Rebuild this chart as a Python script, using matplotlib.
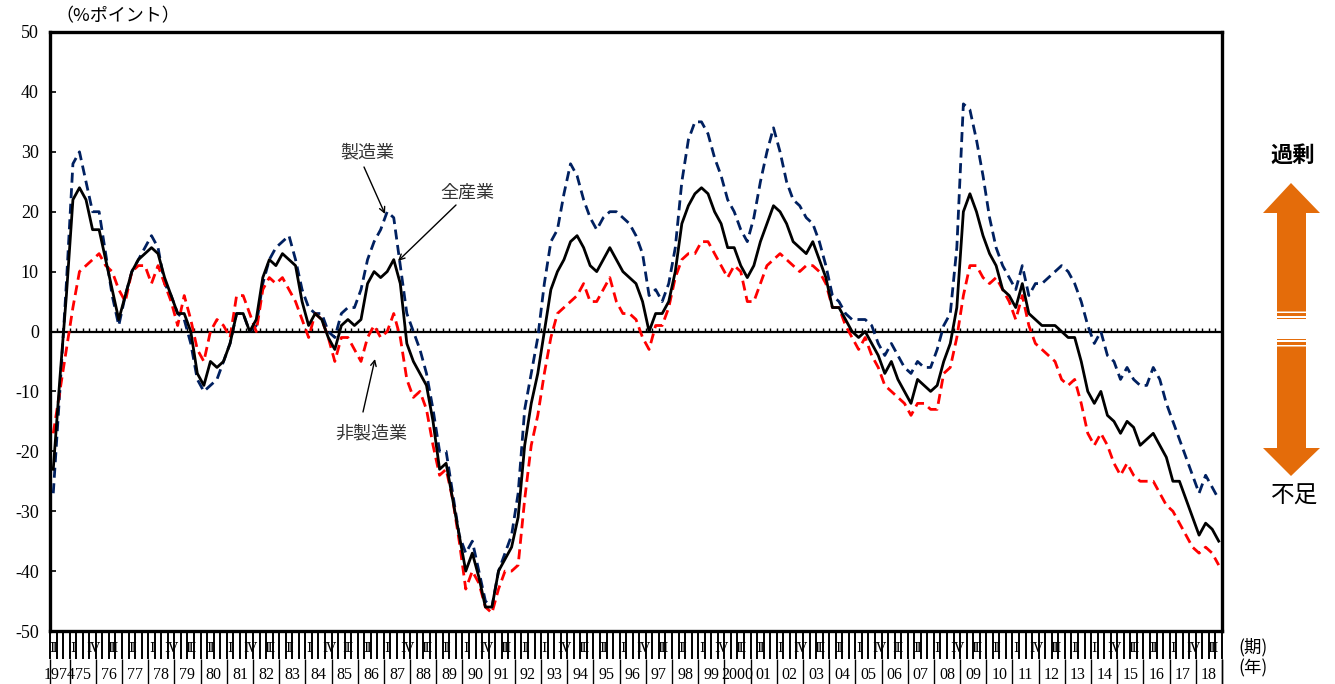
import matplotlib
matplotlib.use("Agg")
import matplotlib.pyplot as plt
from matplotlib.patches import Polygon

plt.rcParams['font.family'] = ['Liberation Serif', 'DejaVu Serif', 'Noto Sans CJK JP']
plt.rcParams['axes.unicode_minus'] = False

# DATA ########################################################################
# quarterly, 1974 Q2 .. 2018 Q4

all_industries = [
    -23, -8, 6, 22, 24, 22, 17, 17, 12, 7,
    2, 6, 10, 12, 13, 14, 13, 9, 6, 3,
    3, 0, -7, -9, -5, -6, -5, -2, 3, 3,
    0, 2, 9, 12, 11, 13, 12, 11, 5, 1,
    3, 2, -1, -3, 1, 2, 1, 2, 8, 10,
    9, 10, 12, 8, -2, -5, -7, -9, -15, -23,
    -22, -28, -34, -40, -37, -41, -46, -46, -40, -38,
    -36, -31, -19, -12, -7, 0, 7, 10, 12, 15,
    16, 14, 11, 10, 12, 14, 12, 10, 9, 8,
    5, 0, 3, 3, 5, 10, 18, 21, 23, 24,
    23, 20, 18, 14, 14, 11, 9, 11, 15, 18,
    21, 20, 18, 15, 14, 13, 15, 12, 9, 4,
    4, 2, 0, -1, 0, -2, -4, -7, -5, -8,
    -10, -12, -8, -9, -10, -9, -5, -2, 4, 20,
    23, 20, 16, 13, 11, 7, 6, 4, 8, 3,
    2, 1, 1, 1, 0, -1, -1, -5, -10, -12,
    -10, -14, -15, -17, -15, -16, -19, -18, -17, -19,
    -21, -25, -25, -28, -31, -34, -32, -33, -35,
]

manufacturing = [
    -27, -10, 8, 28, 30, 25, 20, 20, 13, 6,
    1, 6, 10, 12, 14, 16, 14, 8, 6, 3,
    2, -2, -8, -10, -9, -8, -5, -2, 3, 3,
    0, 1, 8, 12, 14, 15, 16, 12, 7, 4,
    3, 3, 0, -1, 3, 4, 4, 7, 12, 15,
    17, 20, 19, 11, 3, 0, -3, -7, -13, -20,
    -20, -27, -34, -37, -35, -40, -45, -46, -40, -37,
    -34, -27, -13, -7, -1, 8, 15, 17, 23, 28,
    26, 22, 19, 17, 19, 20, 20, 19, 18, 16,
    13, 6, 7, 5, 8, 14, 25, 32, 35, 35,
    33, 29, 26, 22, 20, 17, 15, 19, 25, 30,
    34, 30, 25, 22, 21, 19, 18, 15, 11, 6,
    5, 3, 2, 2, 2, 1, -2, -4, -2, -4,
    -6, -7, -5, -6, -6, -3, 1, 3, 14, 38,
    37, 32, 26, 19, 14, 11, 9, 7, 11, 6,
    8, 8, 9, 10, 11, 10, 8, 5, 1, -2,
    0, -4, -5, -8, -6, -8, -9, -9, -6, -8,
    -12, -15, -18, -21, -24, -27, -24, -26, -28,
]

non_manufacturing = [
    -17, -10, -3, 4, 10, 11, 12, 13, 11, 10,
    7, 5, 10, 11, 11, 8, 11, 8, 5, 1,
    6, 2, -3, -5, 0, 2, 1, -1, 6, 6,
    3, 0, 7, 9, 8, 9, 7, 5, 2, -1,
    3, 2, -1, -5, -1, -1, -3, -5, -1, 1,
    -1, 0, 3, -1, -8, -11, -10, -13, -19, -24,
    -23, -28, -35, -43, -40, -42, -46, -47, -43, -40,
    -40, -39, -28, -19, -14, -7, -1, 3, 4, 5,
    6, 8, 5, 5, 7, 9, 5, 3, 3, 2,
    -1, -3, 1, 1, 4, 9, 12, 13, 13, 15,
    15, 13, 11, 9, 11, 10, 5, 5, 8, 11,
    12, 13, 12, 11, 10, 11, 11, 10, 8, 4,
    4, 1, -1, -3, -1, -4, -6, -9, -10, -11,
    -12, -14, -12, -12, -13, -13, -7, -6, -1, 6,
    11, 11, 9, 8, 9, 7, 5, 2, 6, 1,
    -2, -3, -4, -5, -8, -9, -8, -12, -17, -19,
    -17, -19, -22, -24, -22, -24, -25, -25, -25, -27,
    -29, -30, -32, -34, -36, -37, -36, -37, -39,
]

year_labels = ["1974", "75", "76", "77", "78", "79", "80", "81", "82", "83",
               "84", "85", "86", "87", "88", "89", "90", "91", "92", "93",
               "94", "95", "96", "97", "98", "99", "2000", "01", "02", "03",
               "04", "05", "06", "07", "08", "09", "10", "11", "12", "13",
               "14", "15", "16", "17", "18"]
quarter_names = ["Ⅰ", "Ⅱ", "Ⅲ", "Ⅳ"]
first_quarter = 2   # series starts in Q2

# FIGURE ######################################################################

W, H = 1335, 684
JP = ['Noto Sans CJK JP', 'DejaVu Sans']
ORANGE = '#E46C0A'

def fx(px):
    return px / W

def fy(py):
    return 1 - py / H

fig = plt.figure(figsize=(W / 100, H / 100), dpi=100)
ax_top, ax_bot = 32, 631
ax = fig.add_axes([fx(50), fy(ax_bot), (1222 - 50) / W, (ax_bot - ax_top) / H])

n = len(all_industries)
x = list(range(n))

ax.plot(x, manufacturing, color='#002060', lw=2.0, dashes=(3.6, 2.0), zorder=3)
ax.plot(x, non_manufacturing, color='#FF0000', lw=2.0, dashes=(3.6, 2.0), zorder=3)
ax.plot(x, all_industries, color='black', lw=2.0, zorder=4)

ax.set_xlim(-0.5, n - 0.5)
ax.set_ylim(-50, 50)
ax.set_yticks(range(-50, 51, 10))
ax.set_xticks([])
ax.tick_params(axis='y', direction='in', length=4.5, width=1.2, pad=8, labelsize=13)
for s in ax.spines.values():
    s.set_linewidth(2.4)

# zero line with small quarter ticks
ax.axhline(0, color='black', lw=1.6, zorder=2)
bounds = [k - 0.5 for k in range(n + 1)]
ax.vlines(bounds[1:-1], 0, 0.55, color='black', lw=1.0, zorder=2)

# bottom category band: quarter ticks, year dividers, labels
trans = ax.get_xaxis_transform()
def ya(py):
    return (ax_bot - py) / (ax_bot - ax_top)

ax.vlines(bounds, ya(659), 0, color='black', lw=1.4, transform=trans, clip_on=False)
q0 = first_quarter - 1
year_bounds = [b for k, b in enumerate(bounds) if (q0 + k) % 4 == 0]
year_bounds = [bounds[0]] + year_bounds + [bounds[-1]]
ax.vlines(year_bounds, ya(684), ya(659), color='black', lw=1.0, transform=trans, clip_on=False)

for k in range(0, n, 3):
    ax.text(k, ya(648), quarter_names[(q0 + k) % 4], transform=trans,
            ha='center', va='center', fontsize=9.5, family=['DejaVu Serif', 'Noto Sans CJK JP'])

pos = 0
for i, lab in enumerate(year_labels):
    nq = 4 - q0 if i == 0 else 4
    ax.text(pos + (nq - 1) / 2, ya(675), lab, transform=trans,
            ha='center', va='center', fontsize=11.5)
    pos += nq

fig.text(fx(1253), fy(647), "(期)", ha='center', va='center', fontsize=12.5, family=JP)
fig.text(fx(1253), fy(668), "(年)", ha='center', va='center', fontsize=12.5, family=JP)
fig.text(fx(118), fy(16), "（%ポイント）", ha='center', va='center', fontsize=13, family=JP)

# series annotations
def px2data(px, py):
    return ((px - 50) / ((1222 - 50) / n) - 0.5, (331.5 - py) / ((ax_bot - ax_top) / 100))

arrow = dict(arrowstyle='->', lw=1.0, color='black', shrinkA=0, shrinkB=0)
ax.text(*px2data(367, 152), "製造業", ha='center', va='center', fontsize=13, color='#333333', family=JP)
ax.annotate('', xy=px2data(385, 214), xytext=px2data(364, 167), arrowprops=arrow)
ax.text(*px2data(467, 193), "全産業", ha='center', va='center', fontsize=13, color='#333333', family=JP)
ax.annotate('', xy=px2data(398, 261), xytext=px2data(456, 205), arrowprops=arrow)
ax.text(*px2data(371, 433), "非製造業", ha='center', va='center', fontsize=13, color='#333333', family=JP)
ax.annotate('', xy=px2data(375, 359), xytext=px2data(363, 412), arrowprops=arrow)

# right-hand orange surplus / shortage arrows
def poly(pts):
    fig.patches.append(Polygon([(fx(a), fy(b)) for a, b in pts], closed=True,
                               transform=fig.transFigure, facecolor=ORANGE, edgecolor='none'))

def band(top, bottom):
    poly([(1277, top), (1306, top), (1306, bottom), (1277, bottom)])

poly([(1291, 183), (1320, 213), (1306, 213), (1306, 311.5), (1277, 311.5), (1277, 213), (1263, 213)])
band(313, 316)
band(317.5, 319.5)
band(339, 340.5)
band(342, 345)
poly([(1277, 346.5), (1306, 346.5), (1306, 448), (1320, 448), (1291, 476), (1263, 448), (1277, 448)])

fig.text(fx(1293), fy(155), "過剰", ha='center', va='center', fontsize=16, fontweight='bold', family=JP)
fig.text(fx(1295), fy(496), "不足", ha='center', va='center', fontsize=17, family=JP)

plt.savefig("out.png", dpi=100)
